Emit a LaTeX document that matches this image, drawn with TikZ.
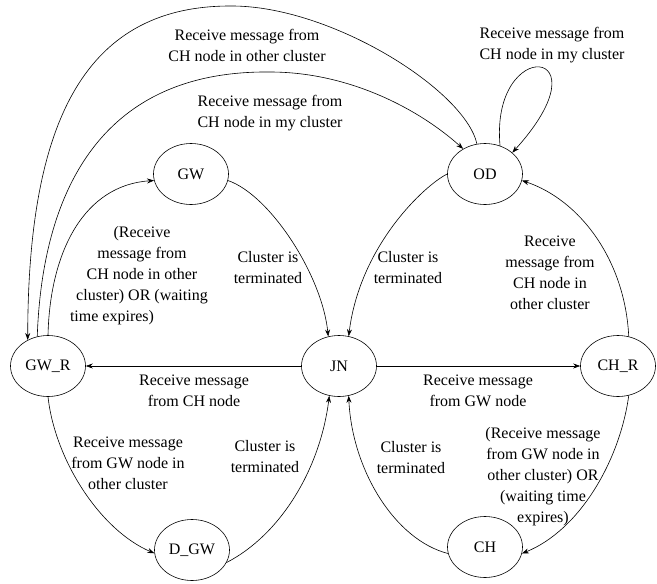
\documentclass[tikz,border=0pt]{standalone}
\usepackage{fontspec}
\setmainfont{Liberation Serif}
\usetikzlibrary{shapes.geometric,arrows.meta}
\tikzset{
  state/.style={ellipse,draw,line width=0.6pt,minimum width=75pt,minimum height=61pt,inner sep=0pt,font=\fontsize{16}{20}\selectfont},
  edge/.style={line width=0.6pt,-{Stealth[length=7pt,width=5pt]}},
  lbl/.style={align=center,inner sep=0pt,font=\fontsize{16}{21}\selectfont}
}
\begin{document}
\begin{tikzpicture}[x=1pt,y=-1pt]
\useasboundingbox (0,0) rectangle (657,584);
% states
\node[state] (GW)  at (191,174) {GW};
\node[state] (OD)  at (485,174) {OD};
\node[state] (GWR) at (48,366)  {GW\_R};
\node[state] (JN)  at (339,366) {JN};
\node[state] (CHR) at (618,366) {CH\_R};
\node[state] (DGW) at (192,550) {D\_GW};
\node[state] (CH)  at (485,547) {CH};
% edges
\draw[edge] (GWR.north) .. controls (50,250) and (85,185) .. (GW.190);
\draw[edge] (GW.-10) .. controls (270,195) and (322,275) .. (JN.110);
\draw[edge] (OD.180) .. controls (425,185) and (360,245) .. (JN.72);
\draw[edge] (CHR.70) .. controls (625,260) and (580,200) .. (OD.-10);
\draw[edge] (JN.west) -- (GWR.east);
\draw[edge] (JN.east) -- (CHR.west);
\draw[edge] (GWR.south) .. controls (55,460) and (100,530) .. (DGW.185);
\draw[edge] (DGW.-20) .. controls (280,535) and (320,470) .. (JN.-108);
\draw[edge] (CH.190) .. controls (395,540) and (352,470) .. (JN.-72);
\draw[edge] (CHR.-70) .. controls (620,460) and (580,530) .. (CH.-10);
\coordinate (topA) at (230,6);
\draw[edge] (OD.105) .. controls (465,90) and (330,5) .. (topA) .. controls (80,6) and (28,130) .. (GWR.128);
\coordinate (topB) at (270,72);
\draw[edge] (GWR.110) .. controls (42,200) and (95,70) .. (topB) .. controls (350,72) and (420,110) .. (OD.131);
\draw[edge] (OD.62) .. controls (490,35) and (610,45) .. (OD.38);
% labels
\node[lbl] (l1)  at (247,45)  {Receive message from\\CH node in other cluster};
\node[lbl] (l2)  at (270,113) {Receive message from\\CH node in my cluster};
\node[lbl] (l3)  at (552,45)  {Receive message from\\CH node in my cluster};
\node[lbl] (l4)  at (142,276) {(Receive\\message from\\CH node in other\\cluster) OR (waiting\\time expires)\hspace*{60pt}};
\node[lbl] (l5)  at (268,268) {Cluster is\\terminated};
\node[lbl] (l6)  at (408,268) {Cluster is\\terminated};
\node[lbl] (l7)  at (550,273) {Receive\\message from\\CH node in\\other cluster};
\node[lbl] (l8)  at (194,391) {Receive message\\from CH node};
\node[lbl] (l9)  at (478,391) {Receive message\\from GW node};
\node[lbl] (l10) at (128,463) {Receive message\\from GW node in\\other cluster};
\node[lbl] (l11) at (265,457) {Cluster is\\terminated};
\node[lbl] (l12) at (411,458) {Cluster is\\terminated};
\node[lbl] (l13) at (543,477) {(Receive message\\from GW node in\\other cluster) OR\\(waiting time\\expires)};
\end{tikzpicture}
\end{document}
